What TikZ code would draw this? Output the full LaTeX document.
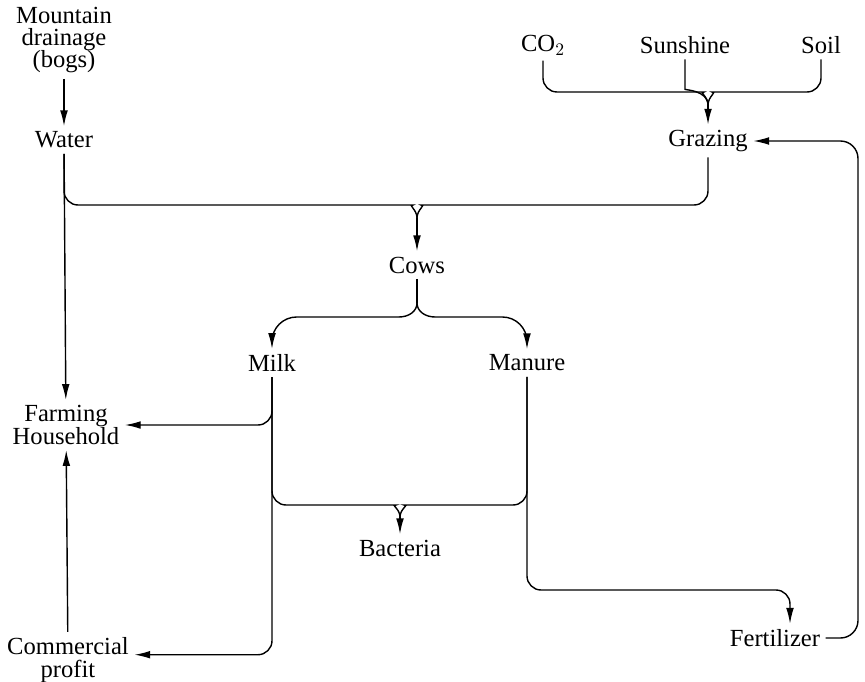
\documentclass[tikz,border=0pt]{standalone}
\usepackage{fontspec}
\setmainfont{Liberation Serif}
\usetikzlibrary{arrows.meta,calc}

\tikzset{
  lbl/.style={font=\fontsize{14}{12.8}\selectfont, align=center, inner sep=3pt},
  link/.style={line width=0.8pt, rounded corners=8pt},
  flow/.style={link, -{Latex[length=9pt,width=4.4pt]}}
}

\begin{document}
\begin{tikzpicture}[x=0.02cm, y=0.02cm]
  \useasboundingbox (0,0) rectangle (865,681);

  % sources
  \node[lbl] (mtn) at (64,641) {Mountain\\drainage\\(bogs)};
  \node[lbl] (water) at (64,541) {Water};
  \node[lbl] (co2) at (543,636) {CO$_2$};
  \node[lbl] (sun) at (685,636) {Sunshine};
  \node[lbl] (soil) at (821,636) {Soil};
  \node[lbl] (grazing) at (708,540) {Grazing};
  \node[lbl] (cows) at (417,416) {Cows};
  \node[lbl] (milk) at (272,318) {Milk};
  \node[lbl] (manure) at (527,318) {Manure};
  \node[lbl] (farm) at (66,256) {Farming\\Household};
  \node[lbl] (bacteria) at (400,133) {Bacteria};
  \node[lbl] (fert) at (775,43) {Fertilizer};
  \node[lbl] (profit) at (68,21) {Commercial\\profit};

  % junctions
  \coordinate (jgraz) at (708,576);
  \coordinate (jcows) at (417,463);
  \coordinate (jsplit) at (417,378);
  \coordinate (jmilk) at (399,364);
  \coordinate (jmanure) at (435,364);
  \coordinate (jbac) at (400,164);
  \coordinate (kfert) at (790,91);
  \coordinate (kret) at (858,540);

  \draw[flow] (mtn) -- (water);

  % CO2, sunshine, soil -> grazing
  \draw[link] (co2.south) |- ($(jgraz)+(-18,13)$) to[out=0,in=90] (jgraz);
  \draw[link] (soil.south) |- ($(jgraz)+(18,13)$) to[out=180,in=90] (jgraz);
  \draw[link] (sun.south) -- ++(0,-16) to[out=-90,in=90] (jgraz);
  \draw[flow] (jgraz) -- (grazing);

  % water, grazing -> cows
  \draw[link] (water.south) |- ($(jcows)+(-18,13)$) to[out=0,in=90] (jcows);
  \draw[link] (grazing.south) |- ($(jcows)+(18,13)$) to[out=180,in=90] (jcows);
  \draw[flow] (jcows) -- (cows);
  \draw[flow] (water) -- (farm);

  % cows -> milk, manure
  \draw[link] (cows) -- (jsplit);
  \draw[link, sharp corners] (jsplit) to[out=-90,in=0] (jmilk);
  \draw[link, sharp corners] (jsplit) to[out=-90,in=180] (jmanure);
  \draw[flow, rounded corners=14pt] (jmilk) -| (milk);
  \draw[flow, rounded corners=14pt] (jmanure) -| (manure);

  % milk
  \draw[flow] (milk.south) |- (farm.east);
  \draw[flow] (milk.south) |- ([yshift=3pt]profit.east);
  \draw[flow] (profit) -- (farm);

  % bacteria
  \draw[link] (milk.south) |- ($(jbac)+(-18,12)$) to[out=0,in=90] (jbac);
  \draw[link] (manure.south) |- ($(jbac)+(18,12)$) to[out=180,in=90] (jbac);
  \draw[flow] (jbac) -- (bacteria);

  % manure -> fertilizer -> grazing
  \draw[flow] (manure.south) |- (kfert) -- (kfert |- fert.north);
  \draw[flow, rounded corners=10pt] (fert.east) -| (kret) -- (grazing.east);
\end{tikzpicture}
\end{document}
